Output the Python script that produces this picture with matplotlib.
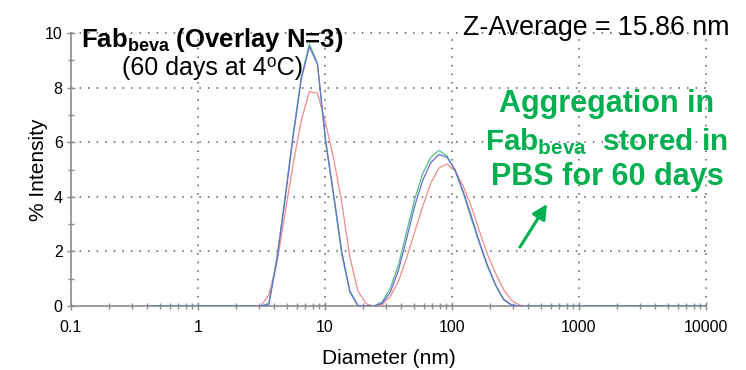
import matplotlib.pyplot as plt
from matplotlib.ticker import FixedLocator, LogLocator, NullFormatter, MultipleLocator

plt.rcParams['font.family'] = ['Liberation Sans', 'DejaVu Sans']
plt.rcParams['mathtext.fontset'] = 'custom'
plt.rcParams['mathtext.rm'] = 'Liberation Sans'
plt.rcParams['mathtext.bf'] = 'Liberation Sans:bold'
plt.rcParams['mathtext.it'] = 'Liberation Sans:italic'

# size bins (nm)
diameter = [0.4, 3.122, 3.615, 4.187, 4.849, 5.615, 6.503, 7.531, 8.721, 10.10,
            11.70, 13.54, 15.69, 18.17, 21.04, 24.36, 28.21, 32.67, 37.84, 43.82,
            50.75, 58.77, 68.06, 78.82, 91.28, 105.7, 122.4, 141.8, 164.2, 190.1,
            220.2, 255.0, 295.3, 342.0, 396.1, 10000]

# % intensity for the three overlaid runs
run_red = [0, 0, 0.4, 1.6, 3.4, 5.2, 6.8, 7.85, 7.8, 6.7,
           5.4, 3.8, 1.8, 0.55, 0.08, 0, 0.05, 0.35, 0.9, 1.75,
           2.7, 3.65, 4.5, 5.05, 5.2, 4.95, 4.4, 3.65, 2.75, 1.9,
           1.2, 0.6, 0.2, 0.03, 0, 0]
run_green = [0, 0, 0.1, 1.8, 4.0, 6.3, 8.4, 9.6, 8.9, 6.0,
             4.0, 1.9, 0.5, 0, 0, 0, 0.15, 0.65, 1.5, 2.7,
             3.9, 4.85, 5.45, 5.7, 5.5, 4.95, 4.15, 3.2, 2.3, 1.45,
             0.75, 0.22, 0.03, 0, 0, 0]
run_blue = [0, 0, 0.05, 1.7, 3.9, 6.2, 8.3, 9.5, 8.85, 6.1,
            4.1, 2.0, 0.55, 0.02, 0, 0, 0.1, 0.5, 1.3, 2.45,
            3.65, 4.6, 5.25, 5.55, 5.45, 5.0, 4.2, 3.3, 2.35, 1.5,
            0.78, 0.25, 0.04, 0, 0, 0]

x_ticks = [0.1, 1, 10, 100, 1000, 10000]
x_tick_labels = ["0.1", "1", "10", "100", "1000", "10000"]
y_ticks = [0, 2, 4, 6, 8, 10]

W, H = 746, 370


def px(x, y):
    # pixel position (top-left origin) -> figure fraction
    return x / W, 1 - y / H


fig = plt.figure(figsize=(W / 100, H / 100), dpi=100)
ax = fig.add_axes([71 / W, 1 - 306 / H, (706 - 71) / W, (306 - 33) / H])

axis_gray = "#8c8c8c"
grid_kw = dict(color="#5a5a5a", lw=1.1, ls=(0, (1, 4.6)), zorder=1, clip_on=False)
for y in y_ticks[1:]:
    ax.axhline(y, **grid_kw)
for x in x_ticks[1:]:
    ax.axvline(x, **grid_kw)

ax.plot(diameter, run_red, color="#f08c8c", lw=0.9, zorder=3)
ax.plot(diameter, run_green, color="#52c08a", lw=0.9, zorder=4)
ax.plot(diameter, run_blue, color="#6c6cd4", lw=0.9, zorder=5)

ax.set_xscale("log")
ax.set_xlim(0.1, 10000)
ax.set_ylim(0, 10)

ax.xaxis.set_major_locator(FixedLocator(x_ticks))
ax.xaxis.set_minor_locator(LogLocator(base=10, subs=range(2, 10)))
ax.xaxis.set_minor_formatter(NullFormatter())
ax.set_xticklabels(x_tick_labels, fontsize=11.5)
ax.yaxis.set_major_locator(FixedLocator(y_ticks))
ax.set_yticklabels([str(v) for v in y_ticks], fontsize=11.5)
ax.yaxis.set_minor_locator(MultipleLocator(1))

for side in ["top", "right"]:
    ax.spines[side].set_visible(False)
for side in ["left", "bottom"]:
    ax.spines[side].set_color(axis_gray)
    ax.spines[side].set_linewidth(1.2)

ax.tick_params(which="both", direction="inout", color=axis_gray, width=1)
ax.tick_params(which="major", length=6)
ax.tick_params(which="minor", length=5)
ax.tick_params(axis="x", which="major", pad=7)
ax.tick_params(axis="y", which="major", pad=3)

ax.set_xlabel("Diameter (nm)", fontsize=15, labelpad=10)
ax.set_ylabel("% Intensity", fontsize=15, labelpad=-2)

# slide annotations
fig.text(*px(212, 47), r"Fab$_{\mathbf{beva}}$ (Overlay N=3)", fontsize=18.5,
         fontweight="bold", ha="center", va="baseline")
fig.text(*px(212, 75), "(60 days at 4\u2070C)", fontsize=18,
         ha="center", va="baseline")
fig.text(*px(463, 35), "Z-Average = 15.86 nm", fontsize=19.3,
         ha="left", va="baseline")

green = "#00b050"
fig.text(*px(607, 112), "Aggregation in", fontsize=22, fontweight="bold",
         color=green, ha="center", va="baseline")
fig.text(*px(606, 150), r"Fab$_{\mathbf{beva}}$  stored in", fontsize=21.3,
         fontweight="bold", color=green, ha="center", va="baseline")
fig.text(*px(607, 185), "PBS for 60 days", fontsize=22, fontweight="bold",
         color=green, ha="center", va="baseline")
ax.annotate("", xy=px(547, 204), xytext=px(520, 247),
            xycoords="figure fraction", textcoords="figure fraction",
            arrowprops=dict(arrowstyle="-|>", color=green, lw=2.2,
                            mutation_scale=22, shrinkA=0, shrinkB=0))

fig.savefig("out.png", dpi=100, facecolor="white")
